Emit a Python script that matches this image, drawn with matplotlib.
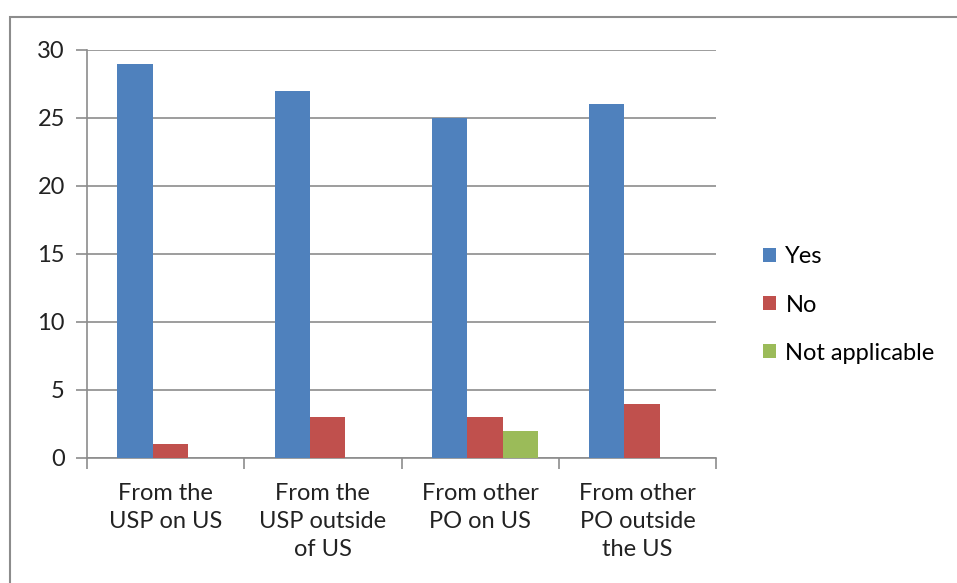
import numpy as np
import matplotlib
matplotlib.use("Agg")
import matplotlib.pyplot as plt
from matplotlib.patches import Rectangle

categories = ["From the\nUSP on US", "From the\nUSP outside\nof US",
              "From other\nPO on US", "From other\nPO outside\nthe US"]
yes_vals = [29, 27, 25, 26]
no_vals = [1, 3, 3, 4]
na_vals = [0, 0, 2, 0]
series_names = ["Yes", "No", "Not applicable"]
colors = ["#4F81BD", "#C0504D", "#9BBB59"]

plt.rcParams["font.family"] = ["Lato", "DejaVu Sans"]

fig = plt.figure(figsize=(9.57, 5.83), dpi=100)
# chart area border (cut off on right and bottom like the original)
fig.patches.append(Rectangle((10 / 957, -0.1), 1.2, 1 - 17 / 583 + 0.1,
                             transform=fig.transFigure, fill=False,
                             edgecolor="#8c8c8c", linewidth=1.5))

ax = fig.add_axes([87 / 957, 125 / 583, 629 / 957, 408 / 583])

x = np.arange(len(categories))
w = 0.225
shift = 0.03
for i, (vals, name, c) in enumerate(zip([yes_vals, no_vals, na_vals], series_names, colors)):
    ax.bar(x + shift + (i - 1) * w, vals, w, color=c, label=name, zorder=3)

ax.set_xlim(-0.5, len(categories) - 0.5)
ax.set_ylim(0, 30)
ax.set_yticks(range(0, 31, 5))
ax.yaxis.grid(True, color="#8c8c8c", linewidth=1.2, zorder=0)
ax.set_axisbelow(True)

ax.set_xticks(np.arange(len(categories) + 1) - 0.5)
ax.set_xticklabels([])
ax.set_xticks(x, minor=True)
ax.set_xticklabels(categories, minor=True, fontsize=17, color="#222222", linespacing=1.4)
ax.tick_params(axis="x", which="minor", length=0, pad=18)
ax.tick_params(axis="x", which="major", length=8, width=1.2, color="#8c8c8c")
ax.tick_params(axis="y", length=8, width=1.2, color="#8c8c8c", labelsize=17,
               labelcolor="#222222", pad=8)

for s in ["top", "right"]:
    ax.spines[s].set_visible(False)
for s in ["left", "bottom"]:
    ax.spines[s].set_color("#8c8c8c")
    ax.spines[s].set_linewidth(1.2)

fig.legend(loc="center left", bbox_to_anchor=(763 / 957, 1 - 305 / 583),
           frameon=False, fontsize=17, handlelength=0.55, handleheight=0.55,
           handletextpad=0.4, labelspacing=1.15, borderpad=0, borderaxespad=0)

fig.savefig("out.png", dpi=100)
